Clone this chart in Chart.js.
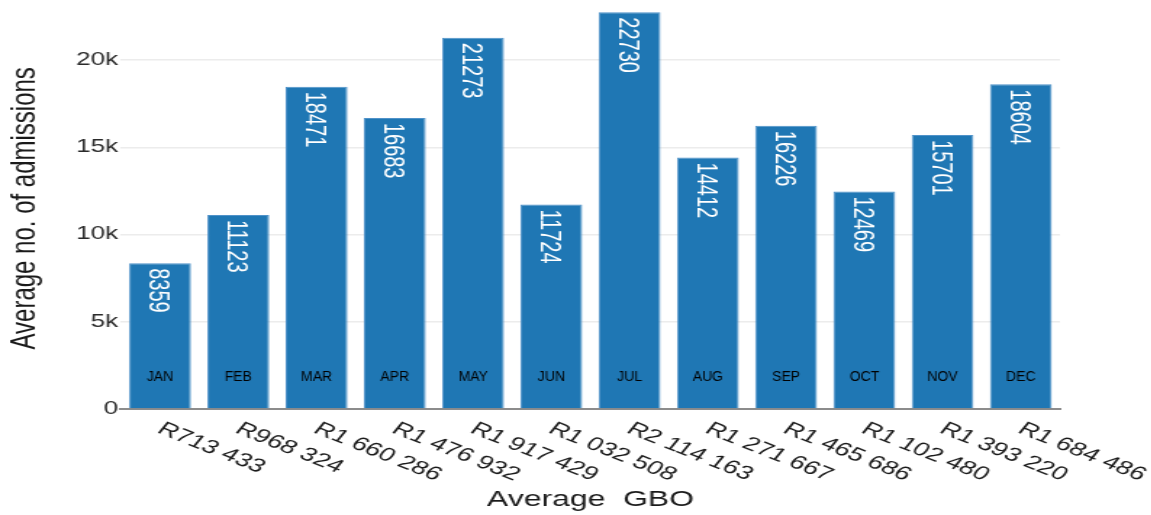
<!DOCTYPE html>
<html>
<head>
<meta charset="utf-8">
<title>Average admissions vs average GBO</title>
<script src="https://cdn.jsdelivr.net/npm/chart.js@4.4.1/dist/chart.umd.min.js"></script>
<style>
  html, body { margin: 0; padding: 0; background: #fff; overflow: hidden; }
  #wrap { width: 794px; height: 515px; transform: scaleX(1.45); transform-origin: 0 0; }
  canvas { display: block; }
</style>
</head>
<body>
<div id="wrap"><canvas id="chart" width="794" height="515"></canvas></div>
<script>
// Monthly figures
const months = ['JAN', 'FEB', 'MAR', 'APR', 'MAY', 'JUN', 'JUL', 'AUG', 'SEP', 'OCT', 'NOV', 'DEC'];
const gboLabels = ['R713 433', 'R968 324', 'R1 660 286', 'R1 476 932', 'R1 917 429', 'R1 032 508',
                   'R2 114 163', 'R1 271 667', 'R1 465 686', 'R1 102 480', 'R1 393 220', 'R1 684 486'];
const admissions = [8359, 11123, 18471, 16683, 21273, 11724, 22730, 14412, 16226, 12469, 15701, 18604];
const yTicks = [0, 5000, 10000, 15000, 20000];

// Layout / styling
const STRETCH = 1.45;              // horizontal scale applied to the canvas wrapper
const MONTH_LEVEL = 1800;          // month names sit at this height inside each bar
const FONT = '"Liberation Sans", Arial, sans-serif';
const BAR_COLOR = '#1f77b4';

const barText = {
  id: 'barText',
  afterDatasetsDraw(chart) {
    const ctx = chart.ctx;
    const meta = chart.getDatasetMeta(0);
    const yScale = chart.scales.y;
    meta.data.forEach((bar, i) => {
      // value, rotated, at the top of the bar
      const vSize = 20;
      ctx.save();
      ctx.translate(bar.x, bar.y + 5);
      ctx.rotate(Math.PI / 2);
      ctx.font = vSize + 'px ' + FONT;
      ctx.fillStyle = '#ffffff';
      ctx.textAlign = 'left';
      ctx.textBaseline = 'alphabetic';
      ctx.fillText(String(admissions[i]), 0, 0.716 * vSize / 2);
      ctx.restore();

      // month name near the bottom of the bar
      const my = yScale.getPixelForValue(MONTH_LEVEL);
      ctx.save();
      ctx.translate(bar.x, my);
      ctx.scale(1 / STRETCH, 1);
      ctx.font = '14px ' + FONT;
      ctx.fillStyle = '#000000';
      ctx.textAlign = 'center';
      ctx.textBaseline = 'middle';
      ctx.fillText(months[i], 0, 0);
      ctx.restore();
    });
  },
  afterDraw(chart) {
    // slanted GBO labels under each bar
    const ctx = chart.ctx;
    const xScale = chart.scales.x;
    const base = chart.chartArea.bottom;
    gboLabels.forEach((t, i) => {
      const x = xScale.getPixelForValue(i);
      ctx.save();
      ctx.translate(x - 3, base + 23);
      ctx.rotate(30 * Math.PI / 180);
      ctx.font = '19px ' + FONT;
      ctx.fillStyle = '#1a1a1a';
      ctx.textAlign = 'left';
      ctx.textBaseline = 'alphabetic';
      ctx.fillText(t, 0, 0);
      ctx.restore();
    });
  }
};

new Chart(document.getElementById('chart'), {
  type: 'bar',
  data: {
    labels: gboLabels,
    datasets: [{
      data: admissions,
      backgroundColor: BAR_COLOR,
      borderColor: '#4f92c9',
      borderWidth: 1,
      barPercentage: 0.79,
      categoryPercentage: 1.0
    }]
  },
  options: {
    responsive: false,
    animation: false,
    devicePixelRatio: 1,
    layout: { padding: { top: 7.65, right: 63, bottom: 0, left: 0 } },
    plugins: { legend: { display: false }, tooltip: { enabled: false } },
    scales: {
      x: {
        offset: true,
        grid: { display: false, drawTicks: false },
        border: { display: true, color: '#8c8c8c', width: 2 },
        ticks: { display: false },
        title: {
          display: true,
          text: 'Average  GBO',
          color: '#1a1a1a',
          font: { family: FONT, size: 22 },
          padding: { top: 0, bottom: 1.8 }
        },
        afterFit(scale) {
          scale.height = 106;
          scale.paddingLeft = 0;
          scale.paddingRight = 0;
        }
      },
      y: {
        min: 0,
        max: 23000,
        afterBuildTicks(scale) { scale.ticks = yTicks.map(v => ({ value: v })); },
        grid: {
          drawTicks: false,
          color: ctx => (ctx.tick && ctx.tick.value === 0) ? 'rgba(0,0,0,0)' : '#ececec',
          lineWidth: 1.5
        },
        border: { display: false },
        ticks: {
          padding: 2,
          color: '#2a2a2a',
          font: { family: FONT, size: 18 },
          callback: v => v === 0 ? '0' : (v / 1000) + 'k'
        },
        title: {
          display: true,
          text: 'Average no. of admissions',
          color: '#1a1a1a',
          font: { family: FONT, size: 24 },
          padding: { top: 2.8, bottom: 0 }
        },
        afterFit(scale) {
          scale.width = 83.4;
          scale.paddingTop = 0;
          scale.paddingBottom = 0;
        }
      }
    }
  },
  plugins: [barText]
});
</script>
</body>
</html>
